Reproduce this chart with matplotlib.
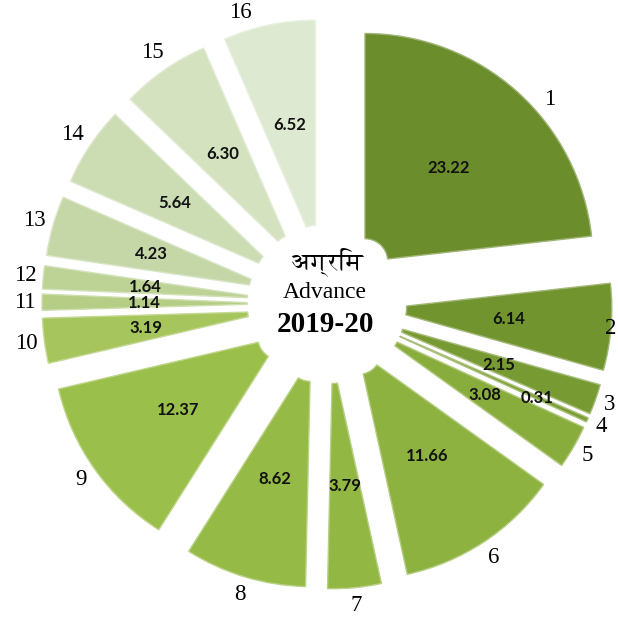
import matplotlib
matplotlib.use("Agg")
import matplotlib.pyplot as plt
import matplotlib.colors as mcolors
import numpy as np

# share of advances 2019-20, sectors 1..16
labels = [str(i) for i in range(1, 17)]
values = [23.22, 6.14, 2.15, 0.31, 3.08, 11.66, 3.79, 8.62,
          12.37, 3.19, 1.14, 1.64, 4.23, 5.64, 6.30, 6.52]
colors = ["#6c8d2c", "#71942f", "#779a32", "#7c9f35", "#89ad3c", "#8db23f",
          "#92b743", "#95ba45", "#9bbf4b", "#a6c55c", "#b5cd84", "#bdd295",
          "#c5d7a7", "#ccdcb3", "#d4e2c0", "#dde9d0"]
# small angle nudges (deg) for the outside labels that Excel moved
label_shift = {0: -7, 15: 6}

R = 228.0  # pie radius in pixels
cx, cy = 327.0, 304.0  # pie centre in pixels from top-left

fig = plt.figure(figsize=(6.18, 6.22), dpi=100)
ax = fig.add_axes([0, 0, 1, 1])

wedges, _ = ax.pie(values, startangle=90, counterclock=False,
                   explode=[0.25] * len(values), radius=1, colors=colors,
                   wedgeprops=dict(width=0.9, linewidth=1.0))

for w, c in zip(wedges, colors):
    rgb = np.array(mcolors.to_rgb(c))
    w.set_edgecolor(tuple(rgb + (1 - rgb) * 0.35))

xmax = (611 - cx) / R
for i, w in enumerate(wedges):
    th = np.deg2rad((w.theta1 + w.theta2) / 2)
    x0, y0 = w.center
    # value inside the slice
    d = 0.76 if values[i] < 1 else 0.55
    ax.text(x0 + d * w.r * np.cos(th), y0 + d * w.r * np.sin(th),
            "%.2f" % values[i], ha="center", va="center",
            fontsize=12, fontweight="bold", family="Lato", color="#111111")
    # category number outside the slice
    tl = th + np.deg2rad(label_shift.get(i, 0))
    hw = 5.5 * len(labels[i])
    dl = 1.0 + (6 + abs(np.cos(tl)) * hw + abs(np.sin(tl)) * 11) / R
    lx = min(x0 + dl * w.r * np.cos(tl), xmax)
    ax.text(lx, y0 + dl * w.r * np.sin(tl),
            labels[i], ha="center", va="center",
            fontsize=16.5, family="Liberation Serif", color="black")

def px(x, y):
    return (x - cx) / R, (cy - y) / R

ax.text(*px(327, 262), "अग्रिम", ha="center", va="center",
        fontsize=17, family=["FreeSerif", "DejaVu Sans"])
ax.text(*px(325, 292), "Advance", ha="center", va="center",
        fontsize=17, family="Liberation Serif")
ax.text(*px(325, 325), "2019-20", ha="center", va="center",
        fontsize=21, fontweight="bold", family="Liberation Serif")

ax.set_xlim(-cx / R, (618 - cx) / R)
ax.set_ylim(-(622 - cy) / R, cy / R)
ax.set_aspect("auto")
ax.axis("off")

fig.savefig("out.png", dpi=100)
